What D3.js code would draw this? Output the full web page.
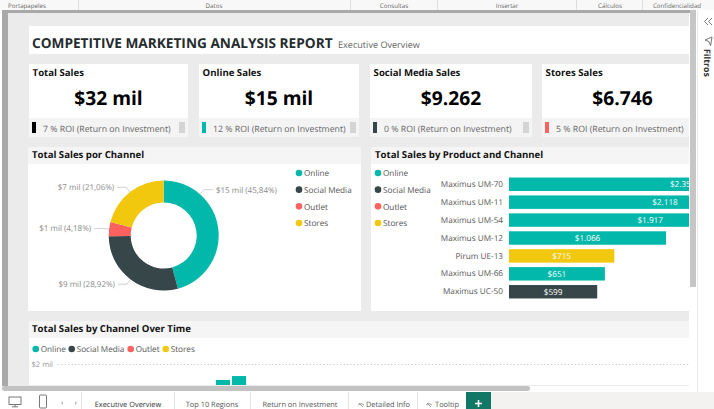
<!DOCTYPE html>
<html>
<head>
<meta charset="utf-8">
<script src="https://cdnjs.cloudflare.com/ajax/libs/d3/7.8.5/d3.min.js"></script>
<style>
  html, body { margin: 0; padding: 0; background: #fff; overflow: hidden; }
  svg { display: block; text-rendering: geometricPrecision; }
  text { font-family: "Open Sans", sans-serif; }
  .axis .domain { display: none; }
</style>
</head>
<body>
<svg id="chart" width="714" height="409"></svg>
<script>
// Data
const channels = ["Online", "Social Media", "Outlet", "Stores"];
const channelColors = ["#01B8AA", "#374649", "#FD625E", "#F2C80F"];
const channelShares = [45.84, 28.92, 4.18, 21.06];
const channelLabels = ["$15 mil (45,84%)", "$9 mil (28,92%)", "$1 mil (4,18%)", "$7 mil (21,06%)"];

const kpiTitles = ["Total Sales", "Online Sales", "Social Media Sales", "Stores Sales"];
const kpiValues = ["$32 mil", "$15 mil", "$9.262", "$6.746"];
const kpiRoi = [7, 12, 0, 5];
const kpiColors = ["#000000", "#01B8AA", "#374649", "#FD625E"];

const products = ["Maximus UM-70", "Maximus UM-11", "Maximus UM-54", "Maximus UM-12", "Pirum UE-13", "Maximus UM-66", "Maximus UC-50"];
const productSales = [2359, 2118, 1917, 1066, 715, 651, 599];
const productChannels = ["Online", "Online", "Online", "Online", "Stores", "Online", "Social Media"];

// only the tops of two columns are visible above the scrollbar
const timePeriods = ["p1", "p2"];
const timeSales = [1630000, 1720000];

const ribbonGroups = ["Portapapeles", "Datos", "Consultas", "Insertar", "Cálculos", "Confidencialidad"];
const pageTabs = ["Executive Overview", "Top 10 Regions", "Return on Investment", "Detailed Info", "Tooltip"];

const svg = d3.select("#chart");
const colorOf = d3.scaleOrdinal().domain(channels).range(channelColors);
const panelHead = "#f5f5f5";
const defs = svg.append("defs");
defs.append("clipPath").attr("id", "canvasClip")
  .append("rect").attr("x", 8).attr("y", 13).attr("width", 681).attr("height", 372);

function box(parent, x, y, w, h, fill) {
  return parent.append("rect").attr("x", x).attr("y", y).attr("width", w).attr("height", h).attr("fill", fill);
}

// Desktop chrome behind the report
box(svg, 0, 0, 714, 409, "#ffffff");
box(svg, 0, 0, 714, 10, "#f8f8f8");
box(svg, 2, 10, 694, 3, "#a9a9a9");
box(svg, 2, 10, 6, 376, "#a9a9a9");
box(svg, 8, 13, 681, 373, "#ebebeb");
box(svg, 697, 10, 1, 382, "#ebebeb");
box(svg, 690, 10, 6, 277, "#c6c6c6");

const ribbonX = [27, 214, 394, 507, 610, 677];
svg.selectAll(".ribbon").data(ribbonGroups).enter().append("text")
  .attr("x", (d, i) => ribbonX[i]).attr("y", 8)
  .attr("text-anchor", "middle").attr("font-size", 6.2).attr("fill", "#666")
  .text(d => d);
[78, 350, 437, 576, 642].forEach(x => box(svg, x, 0, 1, 10, "#dddddd"));

const page = svg.append("g").attr("clip-path", "url(#canvasClip)");

// Title
box(page, 29, 26, 660, 28, "#ffffff");
page.append("text").attr("x", 32).attr("y", 48)
  .attr("font-size", 13.65).attr("font-weight", 700).attr("fill", "#252c2e")
  .text("COMPETITIVE MARKETING ANALYSIS REPORT");
page.append("text").attr("x", 338).attr("y", 48)
  .attr("font-size", 9.1).attr("fill", "#666")
  .text("Executive Overview");

// KPI cards
const cardLeft = [29, 199, 370, 542];
const cardWidth = [159, 160, 162, 161];
kpiTitles.forEach((title, i) => {
  const x = cardLeft[i], w = cardWidth[i];
  box(page, x, 64, w, 54, "#ffffff");
  box(page, x, 118, w, 19, "#f4f4f4");
  page.append("text").attr("x", x + 3.6).attr("y", 75.5)
    .attr("font-size", 9.6).attr("font-weight", 700).attr("fill", "#111")
    .text(title);
  page.append("text").attr("x", x + w / 2).attr("y", 105)
    .attr("text-anchor", "middle").attr("font-size", 19.2).attr("font-weight", 700).attr("fill", "#000")
    .text(kpiValues[i]);
  box(page, x + 3, 122, 4, 11, kpiColors[i]);
  box(page, x + w - 9, 122, 6, 11, "#d4d4d4");
  page.append("text").attr("x", x + 14).attr("y", 132)
    .attr("font-size", 8.75).attr("fill", "#666")
    .text(kpiRoi[i] + " % ROI (Return on Investment)");
});

function panel(x, y, w, h, title) {
  box(page, x, y, w, h, "#ffffff");
  box(page, x, y, w, 17, panelHead);
  page.append("text").attr("x", x + (x === 29 ? 3 : 4)).attr("y", y + 11.3)
    .attr("font-size", 9.6).attr("font-weight", 700).attr("fill", "#111")
    .text(title);
}

function legendColumn(cx, top) {
  const y = d3.scalePoint().domain(channels).range([top, top + 50]);
  channels.forEach(c => {
    page.append("circle").attr("cx", cx).attr("cy", y(c)).attr("r", 3.3).attr("fill", colorOf(c));
    page.append("text").attr("x", cx + 5).attr("y", y(c) + 3.2)
      .attr("font-size", 8.2).attr("fill", "#555").text(c);
  });
}

// Donut
panel(28, 147, 333, 164, "Total Sales por Channel");
legendColumn(299, 173);

const cx = 163.7, cy = 235.5, outerR = 55, innerR = 33;
const pieData = d3.pie().sort(null)(channelShares);
const arc = d3.arc().innerRadius(innerR).outerRadius(outerR);
const donut = page.append("g").attr("transform", `translate(${cx},${cy})`);
donut.selectAll("path").data(pieData).enter().append("path")
  .attr("d", arc)
  .attr("fill", (d, i) => channelColors[i]);

pieData.forEach((d, i) => {
  // the big slice has its label up in the corner, not at mid angle
  const t = i === 0 ? 0.25 : 0.5;
  const a = d.startAngle + (d.endAngle - d.startAngle) * t;
  const p0 = [Math.sin(a) * outerR, -Math.cos(a) * outerR];
  const p1 = [Math.sin(a) * (outerR + 6), -Math.cos(a) * (outerR + 6)];
  const dir = Math.sin(a) > 0 ? 1 : -1;
  const p2 = [p1[0] + dir * 9, p1[1]];
  donut.append("polyline")
    .attr("points", [p0, p1, p2].join(" "))
    .attr("fill", "none").attr("stroke", "#c4c4c4").attr("stroke-width", 0.8);
  donut.append("text")
    .attr("x", p2[0] + dir * 3).attr("y", p2[1] + 3)
    .attr("text-anchor", dir > 0 ? "start" : "end")
    .attr("font-size", 8).attr("fill", "#8a8a8a")
    .text(channelLabels[i]);
});

// Product bars
panel(371, 147, 318, 164, "Total Sales by Product and Channel");
legendColumn(378, 173);

const barLeft = 509;
const xBar = d3.scaleLinear().domain([0, 1066]).range([barLeft, barLeft + 157]);
const yBar = d3.scaleBand().domain(products).range([175.3, 300.7]).paddingInner(0.25).paddingOuter(0.125);

page.append("g").attr("class", "axis")
  .attr("transform", `translate(${barLeft},0)`)
  .call(d3.axisLeft(yBar).tickSize(0).tickPadding(6))
  .call(g => g.selectAll("text").attr("font-size", 8.2).attr("fill", "#555").style("font-family", '"Open Sans", sans-serif'));

page.selectAll(".bar").data(products).enter().append("rect")
  .attr("x", barLeft)
  .attr("y", d => yBar(d))
  .attr("width", (d, i) => xBar(productSales[i]) - barLeft)
  .attr("height", yBar.bandwidth())
  .attr("fill", (d, i) => colorOf(productChannels[i]));

page.selectAll(".barLabel").data(products).enter().append("text")
  .attr("x", (d, i) => (barLeft + xBar(productSales[i])) / 2)
  .attr("y", d => yBar(d) + yBar.bandwidth() / 2 + 3)
  .attr("text-anchor", "middle").attr("font-size", 8.2).attr("fill", "#fff")
  .text((d, i) => "$" + d3.format(",")(productSales[i]).replace(",", "."));

// Time chart
panel(29, 321, 660, 70, "Total Sales by Channel Over Time");

let legendPos = 35.7;
channels.forEach((c, i) => {
  page.append("circle").attr("cx", legendPos).attr("cy", 349).attr("r", 3.3).attr("fill", colorOf(c));
  page.append("text").attr("x", legendPos + 5).attr("y", 352)
    .attr("font-size", 8.2).attr("fill", "#555").text(c);
  legendPos += [36, 59, 35, 0][i];
});

const yTime = d3.scaleLinear().domain([0, 2000000]).range([450, 364]);
const xTime = d3.scaleBand().domain(timePeriods).range([214, 248]).padding(0.12);

page.append("g").attr("class", "axis")
  .attr("transform", "translate(58,0)")
  .call(d3.axisLeft(yTime).tickValues([2000000]).tickFormat(() => "$2 mil").tickSize(-631).tickPadding(5))
  .call(g => g.selectAll("line").attr("stroke", "#bbb").attr("stroke-width", 0.8).attr("stroke-dasharray", "1.2 2.2"))
  .call(g => g.selectAll("text").attr("font-size", 7.6).attr("fill", "#999").style("font-family", '"Open Sans", sans-serif'));

page.selectAll(".timeBar").data(timePeriods).enter().append("rect")
  .attr("x", d => xTime(d))
  .attr("y", (d, i) => yTime(timeSales[i]))
  .attr("width", xTime.bandwidth())
  .attr("height", (d, i) => yTime(0) - yTime(timeSales[i]))
  .attr("fill", channelColors[0]);

// Scrollbar and tabs
box(svg, 2, 386, 694, 6, "#ffffff");
svg.append("rect").attr("x", 2).attr("y", 386).attr("width", 528).attr("height", 5).attr("rx", 2.5).attr("fill", "#c2c2c2");
box(svg, 0, 392, 714, 17, "#f3f2f1");
box(svg, 0, 392, 81, 17, "#ffffff");
box(svg, 82, 392, 384, 17, "#ffffff");
[81, 174, 250, 348, 417].forEach(x => box(svg, x, 392, 1, 17, "#e4e4e4"));

const tabX = [128, 212, 300, 388, 447];
svg.selectAll(".tab").data(pageTabs).enter().append("text")
  .attr("x", (d, i) => tabX[i]).attr("y", 407)
  .attr("text-anchor", "middle").attr("font-size", 7.4)
  .attr("fill", (d, i) => i === 0 ? "#333" : "#555")
  .text(d => d);

[361, 429].forEach(x => {
  svg.append("path").attr("d", `M${x - 3},405 q3,-3 6,0 M${x - 2},403 l4,4`)
    .attr("fill", "none").attr("stroke", "#777").attr("stroke-width", 0.7);
});

// monitor, phone, page arrows
svg.append("rect").attr("x", 9).attr("y", 397).attr("width", 12).attr("height", 7.5)
  .attr("fill", "none").attr("stroke", "#555").attr("stroke-width", 0.8);
svg.append("path").attr("d", "M15,404.5 v2 M12,406.8 h6").attr("stroke", "#555").attr("stroke-width", 0.8);
svg.append("rect").attr("x", 39.5).attr("y", 395).attr("width", 7).attr("height", 13).attr("rx", 1)
  .attr("fill", "none").attr("stroke", "#555").attr("stroke-width", 0.8);
svg.append("path").attr("d", "M63,401 l-2,2 l2,2 z M75,401 l2,2 l-2,2 z").attr("fill", "#bbb");

box(svg, 466, 392, 25, 17, "#117865");
svg.append("path").attr("d", "M478.5,400 v7 M475,403.5 h7").attr("stroke", "#fff").attr("stroke-width", 1.6);

// Filter pane
svg.append("path").attr("d", "M708,18 l-3.5,3.5 l3.5,3.5 M712,18 l-3.5,3.5 l3.5,3.5")
  .attr("fill", "none").attr("stroke", "#555").attr("stroke-width", 0.8);
svg.append("path").attr("d", "M712,37 l-7,3 l4,1.6 l1.6,4 z")
  .attr("fill", "none").attr("stroke", "#555").attr("stroke-width", 0.8);
svg.append("text").attr("transform", "translate(704,49) rotate(90)")
  .attr("font-size", 8.8).attr("font-weight", 700).attr("fill", "#333")
  .text("Filtros");
</script>
</body>
</html>
